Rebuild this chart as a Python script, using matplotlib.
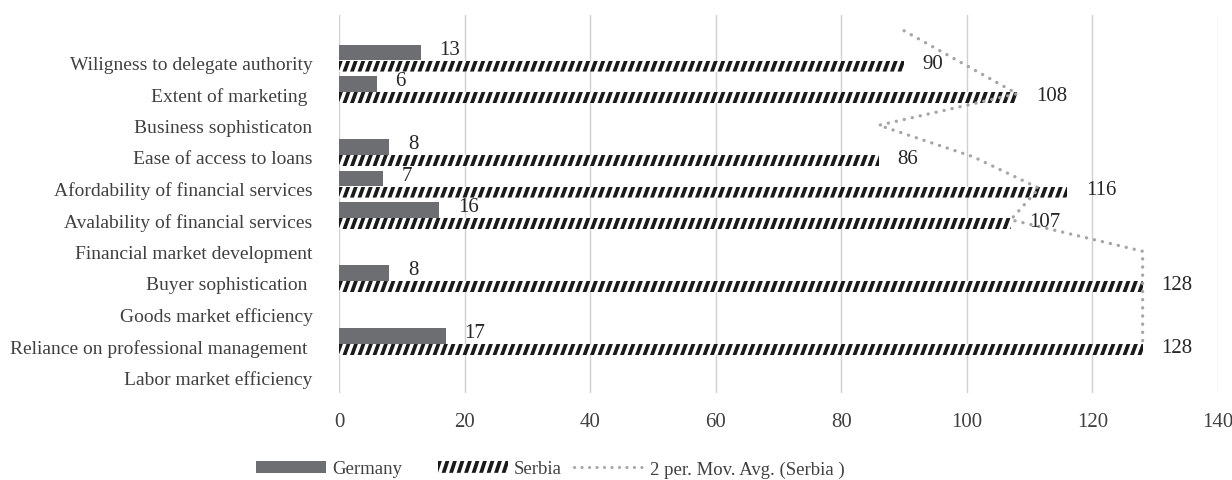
import numpy as np
import pandas as pd
import matplotlib
matplotlib.use('Agg')
import matplotlib.pyplot as plt
from matplotlib.collections import PolyCollection
from matplotlib.patches import Rectangle, Patch
from matplotlib.lines import Line2D
from matplotlib.legend_handler import HandlerBase

plt.rcParams['font.family'] = ['Liberation Serif', 'DejaVu Serif']

# categories top to bottom (first one is an empty slot in the source sheet)
categories = ['', 'Wiligness to delegate authority', 'Extent of marketing ',
              'Business sophisticaton', 'Ease of access to loans',
              'Afordability of financial services', 'Avalability of financial services',
              'Financial market development', 'Buyer sophistication ',
              'Goods market efficiency', 'Reliance on professional management ',
              'Labor market efficiency']
germany = [np.nan, 13, 6, np.nan, 8, 7, 16, np.nan, 8, np.nan, 17, np.nan]
serbia = [np.nan, 90, 108, np.nan, 86, 116, 107, np.nan, 128, np.nan, 128, np.nan]
xticks = [0, 20, 40, 60, 80, 100, 120, 140]

GER_COLOR = '#6d6e71'
MA_COLOR = '#a6a6a6'
TXT = '#404040'

W, H = 1232, 481
top_px, bot_px = 16, 394
fig = plt.figure(figsize=(W / 100, H / 100), dpi=100)
ax = fig.add_axes([339 / W, 1 - bot_px / H, (1218 - 339) / W, (bot_px - top_px) / H])
ax.set_xlim(0, 140)
ax.set_ylim(len(categories) - 0.5, -0.5)

xpx = (1218 - 339) / 140.0   # pixels per x unit

y = np.arange(len(categories))
ger = np.array(germany, dtype=float)
ser = np.array(serbia, dtype=float)

ger_off, ger_h = -0.31, 0.49
ser_off, ser_h = 0.12, 0.35

ax.barh(y + ger_off, np.nan_to_num(ger), height=ger_h, color=GER_COLOR, zorder=2)
ser_bars = ax.barh(y + ser_off, np.nan_to_num(ser), height=ser_h, color='white',
                   linewidth=0, zorder=2)

# black slanted stripes inside the Serbia bars
period, sw, slant = 7.5 / xpx, 3.9 / xpx, 4.0 / xpx
for yc, v, bar in zip(y + ser_off, ser, ser_bars):
    if np.isnan(v):
        continue
    ybot, ytop = yc + ser_h / 2, yc - ser_h / 2
    polys = []
    xb = -slant
    while xb < v:
        polys.append([(xb, ybot), (xb + sw, ybot), (xb + sw + slant, ytop), (xb + slant, ytop)])
        xb += period
    pc = PolyCollection(polys, facecolor='#1a1a1a', edgecolor='none', zorder=3)
    ax.add_collection(pc)
    pc.set_clip_path(bar)

# 2 period moving average of Serbia (blanks skipped)
ma = pd.Series(ser[::-1]).rolling(2, min_periods=1).mean().values[::-1]
ma[-1] = np.nan
ax.plot(ma, y, color=MA_COLOR, lw=2.4, linestyle=(0, (0.05, 2.4)),
        dash_capstyle='round', zorder=4)

# data labels
for yc, v in zip(y + ger_off - 0.11, ger):
    if not np.isnan(v):
        ax.annotate(f'{v:.0f}', xy=(v, yc), xytext=(13.5, 0), textcoords='offset points',
                    ha='left', va='center', fontsize=15, color='#262626', zorder=5)
for yc, v in zip(y + ser_off - 0.08, ser):
    if not np.isnan(v):
        ax.annotate(f'{v:.0f}', xy=(v, yc), xytext=(13.5, 0), textcoords='offset points',
                    ha='left', va='center', fontsize=15, color='#262626', zorder=5)

ax.set_xticks(xticks)
ax.set_xticklabels([str(t) for t in xticks])
ax.set_yticks(y)
ax.set_yticklabels(categories)
ax.tick_params(axis='x', length=0, labelsize=15, labelcolor=TXT, pad=14)
ax.tick_params(axis='y', length=0, labelsize=14, labelcolor=TXT, pad=19)
ax.xaxis.grid(True, color='#d0d0d0', lw=1)
ax.set_axisbelow(True)
for s in ax.spines.values():
    s.set_visible(False)


class StripeHandler(HandlerBase):
    def create_artists(self, legend, orig_handle, xdescent, ydescent,
                       width, height, fontsize, trans):
        box = Rectangle((-xdescent, -ydescent), width, height, facecolor='white',
                        edgecolor='none', transform=trans)
        p, w, s = 5.4, 2.8, 2.8
        y0, y1 = -ydescent, -ydescent + height
        polys = []
        xb = -xdescent - s
        while xb < width - xdescent:
            polys.append([(xb, y0), (xb + w, y0), (xb + w + s, y1), (xb + s, y1)])
            xb += p
        pc = PolyCollection(polys, facecolor='#1a1a1a', edgecolor='none', transform=trans)
        pc.set_clip_path(box)
        return [box, pc]


handles = [Patch(facecolor=GER_COLOR, edgecolor='none'),
           Patch(facecolor='white', edgecolor='none'),
           Line2D([], [], color=MA_COLOR, lw=2.2, linestyle=(0, (0.05, 2.4)),
                  dash_capstyle='round')]
labels = ['Germany', 'Serbia', '2 per. Mov. Avg. (Serbia )']
entry_left = [256, 438, 574]   # left edge of each legend key, pixels
for hnd, lab, x0 in zip(handles, labels, entry_left):
    fig.legend([hnd], [lab], loc='center left', bbox_to_anchor=(x0 / W, 1 - 470 / H),
               frameon=False, fontsize=13.5, labelcolor=TXT, handlelength=3.75,
               handleheight=0.6, handletextpad=0.3, borderpad=0, borderaxespad=0,
               handler_map={handles[1]: StripeHandler()})

fig.savefig('out.png', dpi=100)
